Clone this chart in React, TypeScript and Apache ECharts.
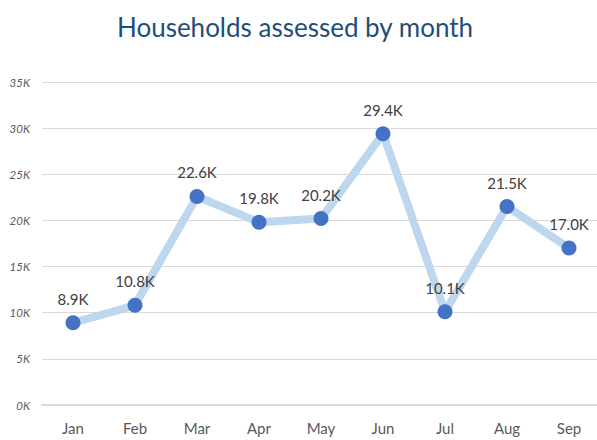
import React, { useEffect, useRef } from "react";
import * as echarts from "echarts";

const months = ["Jan", "Feb", "Mar", "Apr", "May", "Jun", "Jul", "Aug", "Sep"];
const households = [8900, 10800, 22600, 19800, 20200, 29400, 10100, 21500, 17000];
const titleText = "Households assessed by month";

export default function App() {
  const ref = useRef<HTMLDivElement>(null);
  useEffect(() => {
    if (!ref.current) return;
    const chart = echarts.init(ref.current, null, { renderer: "svg" });
    chart.setOption({
      animation: false,
      backgroundColor: "#ffffff",
      title: {
        text: titleText,
        left: 290,
        textAlign: "center",
        top: 9,
        textStyle: { fontFamily: "Lato", fontWeight: "normal", fontSize: 26, color: "#1F4E79" },
      },
      grid: {
        left: 42,
        width: 558,
        top: 82,
        height: 323,
        containLabel: false,
        outerBoundsMode: "none",
      },
      xAxis: {
        type: "category",
        data: months,
        boundaryGap: true,
        axisLine: { show: true, lineStyle: { color: "#D9D9D9", width: 2 } },
        axisTick: { show: false },
        axisLabel: { color: "#595959", fontFamily: "Lato", fontSize: 15, margin: 15 },
      },
      yAxis: {
        type: "value",
        min: 0,
        max: 35000,
        interval: 5000,
        axisLine: { show: false },
        axisTick: { show: false },
        splitLine: { lineStyle: { color: "#D9D9D9", width: 1 } },
        axisLabel: {
          color: "#595959",
          fontFamily: "Lato",
          fontStyle: "italic",
          fontSize: 11.5,
          margin: 12,
          formatter: (v: number) => `${v / 1000}K`,
        },
      },
      series: [
        {
          type: "line",
          data: households,
          lineStyle: { color: "#BDD7EE", width: 8 },
          itemStyle: { color: "#4472C4" },
          symbol: "circle",
          symbolSize: 15,
          label: {
            show: true,
            position: "top",
            distance: 9,
            color: "#404040",
            fontFamily: "Lato",
            fontSize: 15,
            formatter: (p: any) => `${(p.value / 1000).toFixed(1)}K`,
          },
        },
      ],
    });
    return () => chart.dispose();
  }, []);
  return <div ref={ref} style={{ width: 597, height: 440, position: "absolute", left: 0, top: 0 }} />;
}
